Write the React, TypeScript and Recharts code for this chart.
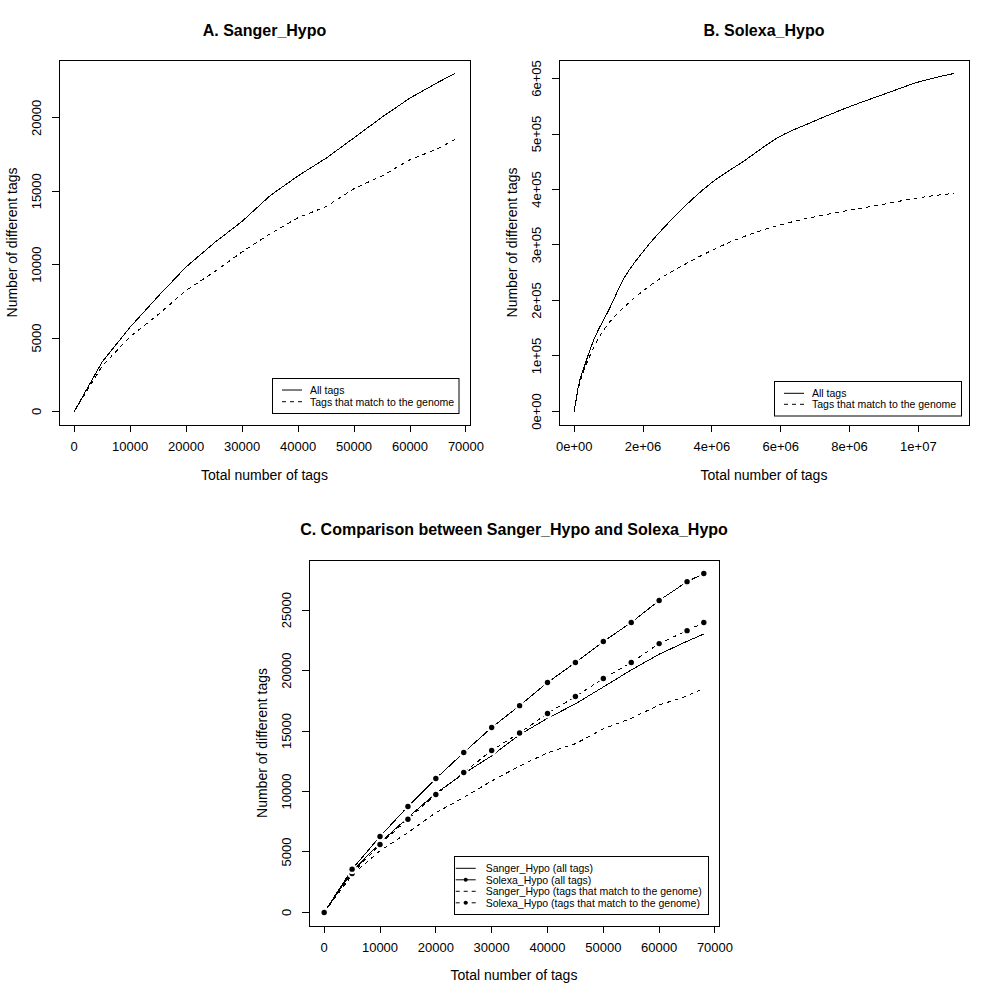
import React from "react";
import { LineChart, Line, XAxis, YAxis, ReferenceArea } from "recharts";

const FONT = "'Liberation Sans', Arial, Helvetica, sans-serif";

// ---- Sanger_Hypo (panels A and C) ----
const sangerTotal = [0, 5000, 10000, 15000, 20000, 25000, 30000, 35000, 40000, 45000, 50000, 55000, 60000, 65000, 68000];
const sangerAllTags = [0, 3380, 5750, 7850, 9850, 11480, 12950, 14700, 16050, 17250, 18640, 20050, 21350, 22420, 23020];
const sangerGenomeTags = [0, 3100, 5100, 6600, 8250, 9500, 10870, 12100, 13200, 13950, 15180, 16050, 17150, 17900, 18530];

// ---- Solexa_Hypo subsampled to Sanger depth (panel C) ----
const solexaSubAllTags = [0, 3580, 6280, 8760, 11070, 13220, 15290, 17100, 19010, 20660, 22400, 23970, 25790, 27350, 28020];
const solexaSubGenomeTags = [0, 3220, 5620, 7710, 9750, 11570, 13390, 14840, 16450, 17850, 19340, 20660, 22230, 23300, 23970];

// ---- Solexa_Hypo full (panel B) ----
const solexaAllTotal = [0, 120000, 300000, 550000, 1030000, 1420000, 2000000, 2770000, 4030000, 4900000, 5960000, 6930000, 7990000, 9060000, 10020000, 11030000];
const solexaAllTags = [0, 45000, 82000, 126000, 186000, 237000, 288000, 342000, 414000, 450000, 495000, 522000, 549000, 573000, 594000, 609000];
const solexaGenomeTotal = [0, 100000, 250000, 455000, 840000, 1370000, 2100000, 3450000, 4800000, 6160000, 7510000, 8860000, 10210000, 11030000];
const solexaGenomeTags = [0, 35000, 68000, 100000, 145000, 183000, 222000, 273000, 312000, 339000, 357000, 372000, 387000, 393000];

// ---- ticks ----
const ticksAX = [0, 10000, 20000, 30000, 40000, 50000, 60000, 70000];
const ticksAY = [0, 5000, 10000, 15000, 20000];
const ticksBX = [0, 2000000, 4000000, 6000000, 8000000, 10000000];
const labelsBX = ["0e+00", "2e+06", "4e+06", "6e+06", "8e+06", "1e+07"];
const ticksBY = [0, 100000, 200000, 300000, 400000, 500000, 600000];
const labelsBY = ["0e+00", "1e+05", "2e+05", "3e+05", "4e+05", "5e+05", "6e+05"];
const ticksCX = [0, 10000, 20000, 30000, 40000, 50000, 60000, 70000];
const ticksCY = [0, 5000, 10000, 15000, 20000, 25000];

function rDomain(values: number[]): [number, number] {
  const mn = Math.min(...values);
  const mx = Math.max(...values);
  const e = (mx - mn) * 0.04;
  return [mn - e, mx + e];
}

const dataA = sangerTotal.map((x, i) => ({ x, all: sangerAllTags[i], genome: sangerGenomeTags[i] }));
const dataC = sangerTotal.map((x, i) => ({
  x,
  sAll: sangerAllTags[i],
  sGen: sangerGenomeTags[i],
  xAll: solexaSubAllTags[i],
  xGen: solexaSubGenomeTags[i],
}));
const dataBAll = solexaAllTotal.map((x, i) => ({ x, y: solexaAllTags[i] }));
const dataBGen = solexaGenomeTotal.map((x, i) => ({ x, y: solexaGenomeTags[i] }));

const domAX = rDomain(sangerTotal);
const domAY = rDomain([...sangerAllTags, ...sangerGenomeTags]);
const domBX = rDomain([...solexaAllTotal, ...solexaGenomeTotal]);
const domBY = rDomain([...solexaAllTags, ...solexaGenomeTags]);
const domCX = rDomain(sangerTotal);
const domCY = rDomain([...sangerAllTags, ...sangerGenomeTags, ...solexaSubAllTags, ...solexaSubGenomeTags]);

const makeXTick = (ticks: number[], labels?: string[]) => (p: any) => {
  const v = p.payload.value;
  const i = ticks.indexOf(v);
  const txt = labels && i >= 0 ? labels[i] : String(v);
  return (
    <text x={p.x} y={p.y + 19} textAnchor="middle" fontFamily={FONT} fontSize={13} fill="#000">
      {txt}
    </text>
  );
};

const makeYTick = (ticks: number[], labels?: string[]) => (p: any) => {
  const v = p.payload.value;
  const i = ticks.indexOf(v);
  const txt = labels && i >= 0 ? labels[i] : String(v);
  const bx = p.x - 10.5;
  return (
    <text
      x={bx}
      y={p.y}
      transform={`rotate(-90 ${bx} ${p.y})`}
      textAnchor="middle"
      fontFamily={FONT}
      fontSize={13}
      fill="#000"
    >
      {txt}
    </text>
  );
};

const bDot = (props: any) => {
  const { cx, cy, index } = props;
  return (
    <g key={`dot-${props.dataKey}-${index}`}>
      <circle cx={cx} cy={cy} r={5} fill="#fff" />
      <circle cx={cx} cy={cy} r={2.7} fill="#000" />
    </g>
  );
};

const axisCommon = {
  type: "number" as const,
  allowDataOverflow: true,
  axisLine: false,
  tickSize: 7,
  tickMargin: 0,
  interval: 0 as const,
  tickLine: { stroke: "#000", strokeWidth: 1 },
};

function PanelA() {
  return (
    <div style={{ position: "absolute", left: 0, top: 0 }}>
      <LineChart width={500} height={500} data={dataA} margin={{ top: 60, right: 30, left: 0, bottom: 0 }}>
        <XAxis dataKey="x" {...axisCommon} domain={domAX} ticks={ticksAX} height={75} tick={makeXTick(ticksAX)} />
        <YAxis {...axisCommon} domain={domAY} ticks={ticksAY} width={59} tick={makeYTick(ticksAY)} />
        <ReferenceArea x1={domAX[0]} x2={domAX[1]} y1={domAY[0]} y2={domAY[1]} fill="none" fillOpacity={0} stroke="#000" strokeWidth={1} ifOverflow="visible" />
        <Line dataKey="genome" type="linear" stroke="#000" strokeWidth={1} strokeDasharray="4 4" dot={false} activeDot={false} isAnimationActive={false} />
        <Line dataKey="all" type="linear" stroke="#000" strokeWidth={1} dot={false} activeDot={false} isAnimationActive={false} />
      </LineChart>
    </div>
  );
}

function PanelB() {
  return (
    <div style={{ position: "absolute", left: 500, top: 0 }}>
      <LineChart width={500} height={500} margin={{ top: 60, right: 31, left: 0, bottom: 0 }}>
        <XAxis dataKey="x" {...axisCommon} domain={domBX} ticks={ticksBX} height={75} tick={makeXTick(ticksBX, labelsBX)} />
        <YAxis {...axisCommon} domain={domBY} ticks={ticksBY} width={59} tick={makeYTick(ticksBY, labelsBY)} />
        <ReferenceArea x1={domBX[0]} x2={domBX[1]} y1={domBY[0]} y2={domBY[1]} fill="none" fillOpacity={0} stroke="#000" strokeWidth={1} ifOverflow="visible" />
        <Line data={dataBGen} dataKey="y" type="monotone" stroke="#000" strokeWidth={1} strokeDasharray="4 4" dot={false} activeDot={false} isAnimationActive={false} />
        <Line data={dataBAll} dataKey="y" type="monotone" stroke="#000" strokeWidth={1} dot={false} activeDot={false} isAnimationActive={false} />
      </LineChart>
    </div>
  );
}

function PanelC() {
  return (
    <div style={{ position: "absolute", left: 250, top: 500 }}>
      <LineChart width={500} height={500} data={dataC} margin={{ top: 60, right: 31, left: 0, bottom: 0 }}>
        <XAxis dataKey="x" {...axisCommon} domain={domCX} ticks={ticksCX} height={74} tick={makeXTick(ticksCX)} />
        <YAxis {...axisCommon} domain={domCY} ticks={ticksCY} width={59} tick={makeYTick(ticksCY)} />
        <ReferenceArea x1={domCX[0]} x2={domCX[1]} y1={domCY[0]} y2={domCY[1]} fill="none" fillOpacity={0} stroke="#000" strokeWidth={1} ifOverflow="visible" />
        <Line dataKey="xGen" type="linear" stroke="#000" strokeWidth={1} strokeDasharray="4 4" dot={bDot} activeDot={false} isAnimationActive={false} />
        <Line dataKey="xAll" type="linear" stroke="#000" strokeWidth={1} dot={bDot} activeDot={false} isAnimationActive={false} />
        <Line dataKey="sGen" type="linear" stroke="#000" strokeWidth={1} strokeDasharray="4 4" dot={false} activeDot={false} isAnimationActive={false} />
        <Line dataKey="sAll" type="linear" stroke="#000" strokeWidth={1} dot={false} activeDot={false} isAnimationActive={false} />
      </LineChart>
    </div>
  );
}

const T = (p: any) => <text fontFamily={FONT} fill="#000" {...p} />;

function Overlay() {
  const yTitle = (cx: number, cy: number) => (
    <T x={cx + 4.5} y={cy} fontSize={14} textAnchor="middle" transform={`rotate(-90 ${cx + 4.5} ${cy})`}>
      Number of different tags
    </T>
  );
  const legRow = (x0: number, y: number, label: string, dashed: boolean, dot: boolean, tx: number) => (
    <g key={label + y}>
      <line x1={x0} x2={x0 + 20} y1={y} y2={y} stroke="#000" strokeWidth={1} strokeDasharray={dashed ? "4 4" : undefined} />
      {dot && <circle cx={x0 + 10} cy={y} r={2} fill="#000" />}
      <T x={tx} y={y + 3.8} fontSize={10.5}>
        {label}
      </T>
    </g>
  );
  return (
    <svg width={1000} height={1000} style={{ position: "absolute", left: 0, top: 0, pointerEvents: "none" }}>
      <T x={264.5} y={36} fontSize={16} fontWeight="bold" textAnchor="middle">A. Sanger_Hypo</T>
      <T x={764} y={36} fontSize={16} fontWeight="bold" textAnchor="middle">B. Solexa_Hypo</T>
      <T x={514} y={535} fontSize={16} fontWeight="bold" textAnchor="middle">C. Comparison between Sanger_Hypo and Solexa_Hypo</T>

      <T x={264.5} y={480} fontSize={14} textAnchor="middle">Total number of tags</T>
      <T x={764} y={480} fontSize={14} textAnchor="middle">Total number of tags</T>
      <T x={514} y={980} fontSize={14} textAnchor="middle">Total number of tags</T>
      {yTitle(12, 242.5)}
      {yTitle(512, 242.5)}
      {yTitle(262, 743)}

      <rect x={272.5} y={378.5} width={186.5} height={35} fill="#fff" stroke="#000" strokeWidth={1} />
      {legRow(282, 390, "All tags", false, false, 310)}
      {legRow(282, 401.7, "Tags that match to the genome", true, false, 310)}

      <rect x={774.5} y={381.5} width={187} height={34.5} fill="#fff" stroke="#000" strokeWidth={1} />
      {legRow(784, 393.3, "All tags", false, false, 812)}
      {legRow(784, 404.3, "Tags that match to the genome", true, false, 812)}

      <rect x={454.5} y={856.5} width={254} height={58} fill="#fff" stroke="#000" strokeWidth={1} />
      {legRow(455.7, 868.3, "Sanger_Hypo (all tags)", false, false, 485.7)}
      {legRow(455.7, 879.8, "Solexa_Hypo (all tags)", false, true, 485.7)}
      {legRow(455.7, 891.3, "Sanger_Hypo (tags that match to the genome)", true, false, 485.7)}
      {legRow(455.7, 902.8, "Solexa_Hypo (tags that match to the genome)", true, true, 485.7)}
    </svg>
  );
}

export default function App() {
  return (
    <div style={{ position: "absolute", left: 0, top: 0, width: 1000, height: 1000, background: "#fff" }}>
      <style>{`.recharts-surface path, .recharts-surface line { shape-rendering: crispEdges; }`}</style>
      <PanelA />
      <PanelB />
      <PanelC />
      <Overlay />
    </div>
  );
}
